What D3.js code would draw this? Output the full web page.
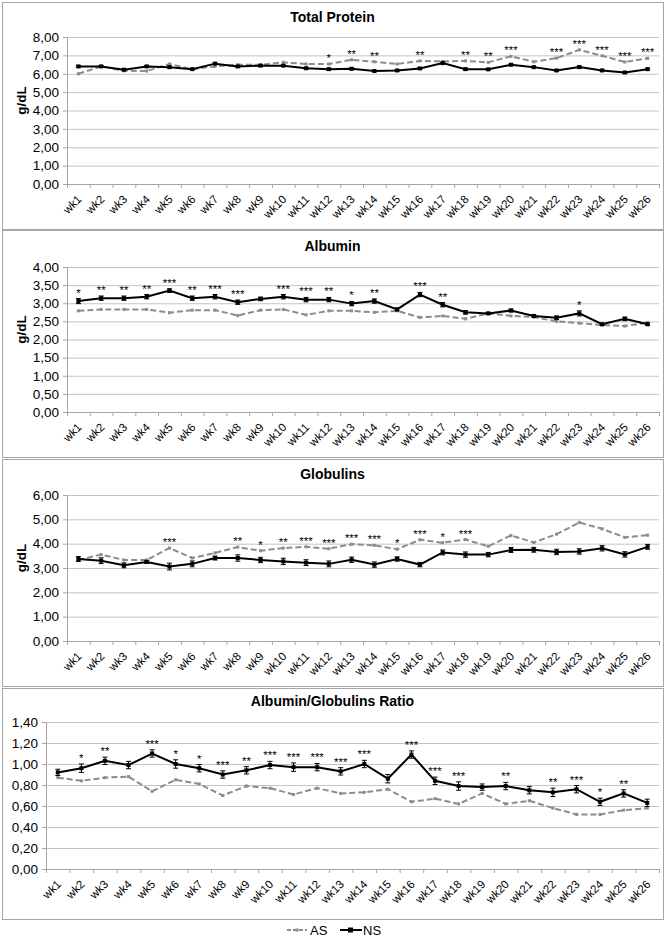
<!DOCTYPE html>
<html>
<head>
<meta charset="utf-8">
<script src="https://cdn.jsdelivr.net/npm/d3@7/dist/d3.min.js"></script>
<style>
  body { margin: 0; background: #fff; }
  svg { font-family: "Liberation Sans", Arial, sans-serif; }
</style>
</head>
<body>
<div id="chart"></div>
<script>
const weeks = ["wk1","wk2","wk3","wk4","wk5","wk6","wk7","wk8","wk9","wk10","wk11","wk12","wk13",
  "wk14","wk15","wk16","wk17","wk18","wk19","wk20","wk21","wk22","wk23","wk24","wk25","wk26"];

// Total protein
const tpAS = [6.00,6.40,6.16,6.15,6.53,6.25,6.40,6.49,6.49,6.62,6.53,6.53,6.76,6.65,6.53,6.70,6.67,6.70,6.62,6.95,6.65,6.85,7.30,6.98,6.64,6.84];
const tpNS = [6.40,6.40,6.22,6.40,6.36,6.25,6.55,6.40,6.44,6.44,6.30,6.25,6.27,6.15,6.18,6.29,6.58,6.25,6.24,6.49,6.36,6.18,6.36,6.18,6.07,6.25];
const tpErr = [0.05,0.04,0.05,0.04,0.05,0.04,0.05,0.05,0.04,0.04,0.05,0.05,0.05,0.04,0.04,0.05,0.05,0.05,0.04,0.05,0.04,0.05,0.06,0.05,0.04,0.05];
const tpSig = ["","","","","","","","","","","","*","**","**","","**","","**","**","***","","***","***","***","***","***"];

// Albumin
const albAS = [2.79,2.83,2.83,2.83,2.74,2.81,2.81,2.66,2.81,2.83,2.68,2.79,2.79,2.75,2.79,2.61,2.65,2.57,2.72,2.65,2.62,2.50,2.45,2.40,2.37,2.47];
const albNS = [3.06,3.14,3.14,3.18,3.35,3.14,3.18,3.03,3.12,3.18,3.10,3.10,2.99,3.06,2.83,3.24,2.96,2.75,2.72,2.80,2.65,2.60,2.72,2.42,2.57,2.42];
const albErr = [0.07,0.06,0.06,0.06,0.05,0.06,0.06,0.06,0.05,0.06,0.06,0.06,0.06,0.06,0.04,0.06,0.06,0.05,0.03,0.04,0.04,0.05,0.07,0.03,0.05,0.03];
const albSig = ["*","**","**","**","***","**","***","***","","***","***","**","*","**","","***","**","","","","","","*","","",""];

// Globulins
const gloAS = [3.33,3.55,3.33,3.33,3.82,3.41,3.62,3.86,3.71,3.82,3.87,3.79,3.98,3.93,3.77,4.16,4.04,4.17,3.89,4.34,4.05,4.39,4.87,4.61,4.26,4.35];
const gloNS = [3.37,3.30,3.11,3.25,3.06,3.17,3.41,3.41,3.33,3.27,3.22,3.17,3.34,3.14,3.37,3.14,3.64,3.55,3.55,3.74,3.75,3.66,3.68,3.81,3.56,3.87];
const gloErr = [0.10,0.12,0.10,0.06,0.14,0.12,0.08,0.13,0.11,0.13,0.12,0.12,0.11,0.11,0.09,0.09,0.10,0.11,0.09,0.10,0.10,0.11,0.11,0.11,0.11,0.10];
const gloSig = ["","","","","***","","","**","*","**","***","***","***","***","*","***","*","***","","","","","","","",""];

// Albumin / globulins ratio
const agAS = [0.87,0.84,0.87,0.88,0.74,0.85,0.81,0.70,0.79,0.77,0.71,0.77,0.72,0.73,0.76,0.64,0.67,0.62,0.72,0.62,0.65,0.58,0.52,0.52,0.56,0.58];
const agNS = [0.92,0.96,1.03,0.99,1.10,1.00,0.96,0.90,0.94,0.99,0.97,0.97,0.93,1.00,0.86,1.09,0.84,0.79,0.78,0.79,0.75,0.73,0.76,0.64,0.72,0.63];
const agErr = [0.03,0.04,0.035,0.035,0.035,0.04,0.035,0.035,0.035,0.035,0.04,0.035,0.035,0.035,0.04,0.035,0.035,0.04,0.03,0.035,0.035,0.04,0.035,0.035,0.035,0.035];
const agSig = ["","*","**","","***","*","*","***","**","***","***","***","***","***","","***","***","***","","**","","**","***","*","**",""];

const yTicks = {
  tp: [0,1,2,3,4,5,6,7,8],
  alb: [0,0.5,1,1.5,2,2.5,3,3.5,4],
  glo: [0,1,2,3,4,5,6],
  ag: [0,0.2,0.4,0.6,0.8,1.0,1.2,1.4]
};

const W = 671, H = 942;
const plotRight = 659;

const panels = [
  { title: "Total Protein", as: tpAS, ns: tpNS, err: tpErr, sig: tpSig, ticks: yTicks.tp, unit: "g/dL",
    box: { x: 2, y: 2, w: 661, h: 227 }, left: 67, top: 37, bottom: 184, titleY: 22 },
  { title: "Albumin", as: albAS, ns: albNS, err: albErr, sig: albSig, ticks: yTicks.alb, unit: "g/dL",
    box: { x: 2, y: 230, w: 661, h: 227 }, left: 67, top: 267, bottom: 412, titleY: 251 },
  { title: "Globulins", as: gloAS, ns: gloNS, err: gloErr, sig: gloSig, ticks: yTicks.glo, unit: "g/dL",
    box: { x: 2, y: 459, w: 661, h: 227 }, left: 67, top: 495, bottom: 641, titleY: 479 },
  { title: "Albumin/Globulins Ratio", as: agAS, ns: agNS, err: agErr, sig: agSig, ticks: yTicks.ag, unit: null,
    box: { x: 2, y: 688, w: 661, h: 231 }, left: 46, top: 722, bottom: 869, titleY: 706 }
];

const fmt = v => d3.format(".2f")(v).replace(".", ",");

const svg = d3.select("#chart").append("svg")
  .attr("width", W).attr("height", H);

panels.forEach(p => drawPanel(p));
drawLegend();

function drawPanel(p) {
  const g = svg.append("g");

  g.append("rect")
    .attr("x", p.box.x + 0.5).attr("y", p.box.y + 0.5)
    .attr("width", p.box.w).attr("height", p.box.h)
    .attr("fill", "#fff").attr("stroke", "#a6a6a6");

  g.append("text")
    .attr("x", p.box.x + p.box.w / 2).attr("y", p.titleY)
    .attr("text-anchor", "middle")
    .attr("font-size", 14).attr("font-weight", "bold")
    .text(p.title);

  const x = d3.scaleBand().domain(weeks).range([p.left, plotRight]);
  const xi = d3.scaleLinear().domain([0, weeks.length]).range([p.left, plotRight]);
  const y = d3.scaleLinear().domain([0, d3.max(p.ticks)]).range([p.bottom, p.top]);
  const cx = d => x(d) + x.bandwidth() / 2;

  // gridlines
  g.append("g")
    .attr("transform", "translate(" + p.left + ",0)")
    .call(d3.axisLeft(y).tickValues(p.ticks).tickSize(-(plotRight - p.left)).tickFormat(""))
    .call(a => a.select(".domain").remove())
    .call(a => a.selectAll("line").attr("stroke", "#c4c4c4"));

  // y axis
  g.append("g")
    .attr("transform", "translate(" + p.left + ",0)")
    .call(d3.axisLeft(y).tickValues(p.ticks).tickSize(4).tickPadding(4).tickFormat(fmt))
    .call(a => a.select(".domain").attr("stroke", "#a6a6a6"))
    .call(a => a.selectAll("line").attr("stroke", "#a6a6a6"))
    .call(a => a.selectAll("text").attr("font-size", 13.5).attr("fill", "#000")
      .attr("font-family", "Liberation Sans, Arial, sans-serif"));

  // x axis: tick marks at category boundaries
  g.append("g")
    .attr("transform", "translate(0," + p.bottom + ")")
    .call(d3.axisBottom(xi).tickValues(d3.range(weeks.length + 1)).tickSize(4).tickFormat(""))
    .call(a => a.select(".domain").attr("stroke", "#a6a6a6"))
    .call(a => a.selectAll("line").attr("stroke", "#a6a6a6"));

  // x labels
  g.append("g")
    .selectAll("text")
    .data(weeks)
    .join("text")
    .attr("transform", d => "translate(" + (cx(d) + 4) + "," + (p.bottom + 16) + ") rotate(-45)")
    .attr("text-anchor", "end")
    .attr("font-size", 11.5)
    .text(d => d);

  if (p.unit) {
    g.append("text")
      .attr("transform", "translate(26," + ((p.top + p.bottom) / 2 - 10) + ") rotate(-90)")
      .attr("text-anchor", "middle")
      .attr("font-size", 13.5).attr("font-weight", "bold")
      .text(p.unit);
  }

  const rows = weeks.map((w, i) => ({ w, as: p.as[i], ns: p.ns[i], err: p.err[i], sig: p.sig[i] }));

  // AS series (dashed grey)
  g.append("path")
    .datum(rows)
    .attr("fill", "none")
    .attr("stroke", "#8c8c8c")
    .attr("stroke-width", 2)
    .attr("stroke-dasharray", "6,3")
    .attr("d", d3.line().x(d => cx(d.w)).y(d => y(d.as)));

  g.append("g").selectAll("rect")
    .data(rows)
    .join("rect")
    .attr("x", d => cx(d.w) - 1.5).attr("y", d => y(d.as) - 1.5)
    .attr("width", 3).attr("height", 3)
    .attr("fill", "#8c8c8c");

  // NS error bars
  const eb = g.append("g").attr("stroke", "#000").attr("stroke-width", 1);
  eb.selectAll("line.v").data(rows).join("line").attr("class", "v")
    .attr("x1", d => cx(d.w)).attr("x2", d => cx(d.w))
    .attr("y1", d => y(d.ns - d.err)).attr("y2", d => y(d.ns + d.err));
  eb.selectAll("line.t").data(rows).join("line").attr("class", "t")
    .attr("x1", d => cx(d.w) - 2.5).attr("x2", d => cx(d.w) + 2.5)
    .attr("y1", d => y(d.ns + d.err)).attr("y2", d => y(d.ns + d.err));
  eb.selectAll("line.b").data(rows).join("line").attr("class", "b")
    .attr("x1", d => cx(d.w) - 2.5).attr("x2", d => cx(d.w) + 2.5)
    .attr("y1", d => y(d.ns - d.err)).attr("y2", d => y(d.ns - d.err));

  // NS series (solid black)
  g.append("path")
    .datum(rows)
    .attr("fill", "none")
    .attr("stroke", "#000")
    .attr("stroke-width", 2)
    .attr("d", d3.line().x(d => cx(d.w)).y(d => y(d.ns)));

  g.append("g").selectAll("rect")
    .data(rows)
    .join("rect")
    .attr("x", d => cx(d.w) - 2).attr("y", d => y(d.ns) - 2)
    .attr("width", 4).attr("height", 4)
    .attr("fill", "#000");

  // significance stars
  g.append("g").selectAll("text")
    .data(rows.filter(d => d.sig))
    .join("text")
    .attr("x", d => cx(d.w))
    .attr("y", d => y(Math.max(d.as, d.ns + d.err)) - 2)
    .attr("text-anchor", "middle")
    .attr("font-size", 11.5)
    .attr("fill", "#000")
    .text(d => d.sig);
}

function drawLegend() {
  const lg = svg.append("g").attr("transform", "translate(0,934)");

  lg.append("line")
    .attr("x1", 287).attr("x2", 307).attr("y1", -4).attr("y2", -4)
    .attr("stroke", "#8c8c8c").attr("stroke-width", 2).attr("stroke-dasharray", "4,2");
  lg.append("rect")
    .attr("x", 295.5).attr("y", -5.5).attr("width", 3).attr("height", 3).attr("fill", "#8c8c8c");
  lg.append("text").attr("x", 310).attr("y", 1).attr("font-size", 13).text("AS");

  lg.append("line")
    .attr("x1", 340).attr("x2", 362).attr("y1", -4).attr("y2", -4)
    .attr("stroke", "#000").attr("stroke-width", 2);
  lg.append("rect")
    .attr("x", 348).attr("y", -6.5).attr("width", 5).attr("height", 5).attr("fill", "#000");
  lg.append("text").attr("x", 363).attr("y", 1).attr("font-size", 13).text("NS");
}
</script>
</body>
</html>
